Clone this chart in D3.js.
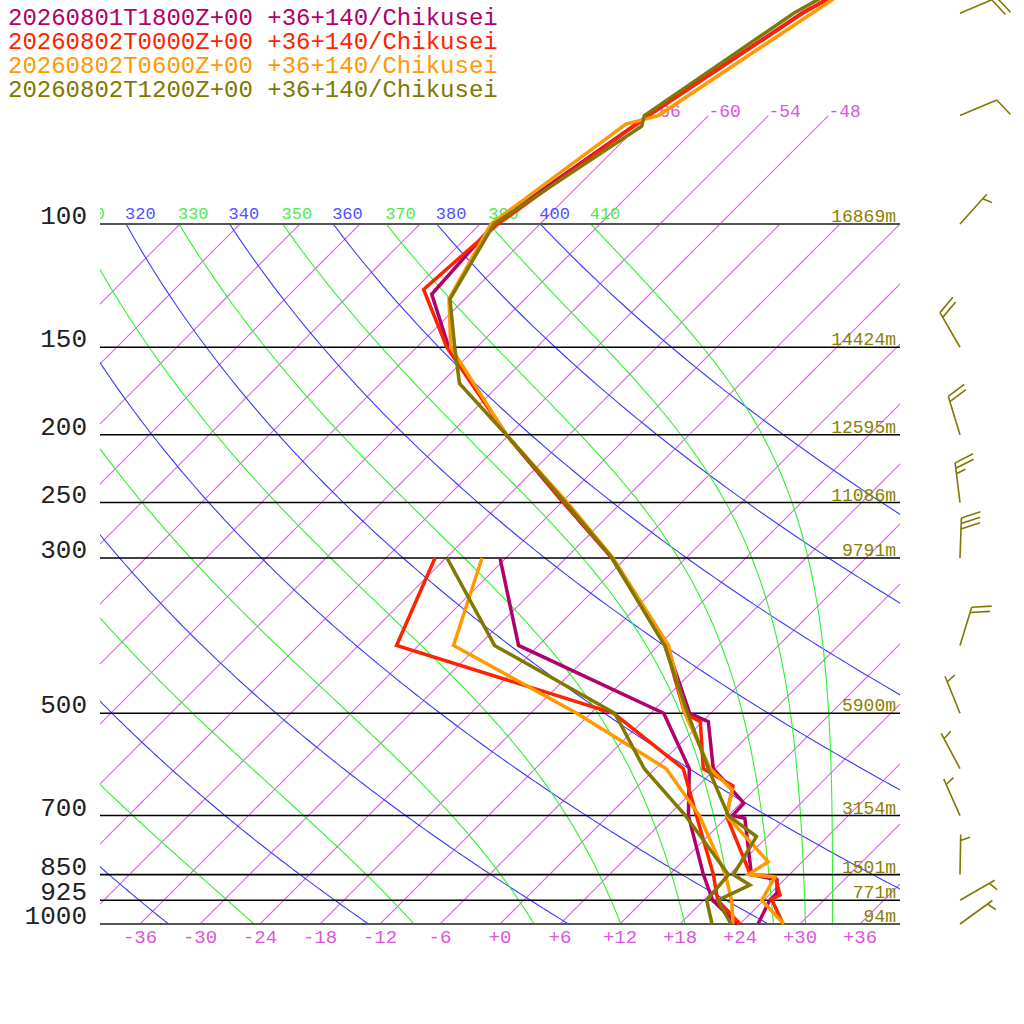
<!DOCTYPE html>
<html>
<head>
<meta charset="utf-8">
<script src="https://cdn.jsdelivr.net/npm/d3@7"></script>
<style>
	body { margin: 0; background: #fff; }
	text { font-family: 'Liberation Mono', monospace; }
</style>
</head>
<body>
<div id="chart"></div>
<script>
// runs shown in the legend, one colour each
const runs = ['20260801T1800Z+00', '20260802T0000Z+00', '20260802T0600Z+00', '20260802T1200Z+00']
const place = '+36+140/Chikusei'
const runColors = ['#b0006a', '#ff2200', '#ff9900', '#807800']

// labelled pressure lines and their heights
const pressureLevels = [100, 150, 200, 250, 300, 500, 700, 850, 925, 1000]
const heightLabels = ['16869m', '14424m', '12595m', '11086m', '9791m', '5900m', '3154m', '1501m', '771m', '94m']
const tempTicks = [-36, -30, -24, -18, -12, -6, 0, 6, 12, 18, 24, 30, 36]

// background lines
const isotherms = d3.range(-102, 37, 6)
const upperIsotherms = [-66, -60, -54, -48]
const dryAdiabats = [240, 260, 280, 300, 320, 340, 360, 380, 400]
const moistAdiabats = [250, 270, 290, 310, 330, 350, 370, 390, 410]

// temperature profiles [hPa, degC]
const temp1800 = [[1000, 25.8], [925, 24.6], [903, 24.6], [865, 23.3], [850, 20.2], [706, 13.9], [700, 12.4], [672, 12.3], [600, 5.8], [514, 0.6], [500, -2.1], [400, -11.2], [300, -25.4], [250, -35.8], [200, -48.3], [150, -62.8], [126, -69.8], [100, -70.6], [70, -66.0], [50, -60.9], [30, -48.0]]
const temp0000 = [[1000, 28.3], [922, 24.7], [909, 25.1], [856, 22.8], [850, 20.1], [700, 11.8], [635, 9.5], [600, 4.8], [514, -0.2], [500, -2.6], [400, -11.3], [300, -25.4], [250, -35.8], [200, -48.3], [150, -63.0], [124, -71.1], [100, -70.2], [70, -66.0], [50, -60.8], [30, -49.5]]
const temp0600 = [[1000, 28.4], [925, 23.8], [857, 22.8], [850, 19.9], [815, 20.6], [700, 11.8], [643, 9.8], [600, 5.5], [500, -2.6], [400, -11.0], [300, -25.3], [250, -35.4], [200, -48.3], [150, -62.6], [128, -67.6], [100, -70.9], [72, -67.4], [70, -65.0], [30, -52.1]]
const temp1200 = [[1000, 23.1], [925, 19.4], [880, 21.1], [850, 18.4], [750, 16.9], [700, 12.0], [600, 5.3], [500, -2.3], [400, -11.4], [300, -25.4], [250, -35.6], [200, -48.3], [169, -58.1], [150, -62.2], [128, -67.5], [100, -70.6], [72.5, -65.6], [70, -66.4], [50, -61.7], [30, -49.6]]

// dewpoint profiles [hPa, degC]
const dew1800 = [[1000, 23.7], [925, 18.9], [850, 15.4], [700, 8.0], [600, 3.4], [500, -4.7], [400, -26.0], [300, -36.6]]
const dew0000 = [[1000, 24.0], [925, 19.4], [850, 16.4], [700, 8.8], [600, 2.8], [500, -9.7], [400, -38.2], [300, -43.1]]
const dew0600 = [[1000, 23.3], [925, 20.8], [850, 17.6], [700, 9.1], [600, 1.1], [500, -13.4], [400, -32.5], [300, -38.4]]
const dew1200 = [[1000, 21.2], [925, 18.3], [850, 17.9], [700, 7.7], [600, -1.1], [500, -9.6], [400, -28.4], [300, -41.9]]

// winds of the last run (direction from, deg; speed, kt)
const windLevels = [1000, 925, 850, 700, 600, 500, 400, 300, 250, 200, 150, 100, 70, 50]
const windDir = [54, 60, 1, 336, 332, 338, 17, 2, 353, 343, 330, 42, 67, 67]
const windSpeed = [5, 5, 5, 5, 5, 5, 20, 30, 25, 20, 20, 5, 10, 20]

const temps = [temp1800, temp0000, temp0600, temp1200]
const dews = [dew1800, dew0000, dew0600, dew1200]

const isoColor = '#e040f0'

const svg = d3.select('#chart')
	.append('svg')
	.attr('width', 1024)
	.attr('height', 1024)

const y = d3.scaleLog().domain([1000, 100]).range([924, 224])
const t = d3.scaleLinear().domain([-40, 40]).range([100, 900])
// skewed: isotherms lean 45 degrees
const sx = (T, p) => t(T) + (y(1000) - y(p))

const defs = svg.append('defs')
defs.append('clipPath').attr('id', 'plot')
	.append('rect').attr('x', 100).attr('y', 224).attr('width', 800).attr('height', 700)
defs.append('clipPath').attr('id', 'upper')
	.append('rect').attr('x', 100).attr('y', 0).attr('width', 800).attr('height', 924)

// saturated equivalent potential temperature (Bolton 1980)
const esat = T => 6.112 * Math.exp(17.67 * (T - 273.15) / (T - 29.65))
const thetaE = (T, p) => {
	const e = esat(T)
	if (e > p * 0.3) return Infinity
	const r = 622 * e / (p - e)
	return T * Math.pow(1000 / p, 0.2854 * (1 - 0.00028 * r)) *
		Math.exp((3.376 / T - 0.00254) * r * (1 + 0.00081 * r))
}
const moistT = (te, p) => {
	let lo = 120, hi = 340
	for (let i = 0; i < 50; i++) {
		const mid = (lo + hi) / 2
		if (thetaE(mid, p) > te) hi = mid
		else lo = mid
	}
	return (lo + hi) / 2 - 273.15
}
const dryT = (th, p) => th * Math.pow(p / 1000, 0.2857) - 273.15

const steps = d3.range(1000, 99, -5)
const upSteps = d3.range(100, 69, -5)
const curve = d3.line().x(d => d[0]).y(d => d[1])

const bg = svg.append('g').attr('clip-path', 'url(#plot)')

bg.selectAll('path.iso')
	.data(isotherms)
	.enter()
	.append('path')
	.attr('class', 'iso')
	.attr('d', T => curve(steps.map(p => [sx(T, p), y(p)])))
	.style('fill', 'none')
	.style('stroke', isoColor)
	.style('stroke-opacity', 0.85)
	.style('stroke-width', 1.1)

bg.selectAll('path.dry')
	.data(dryAdiabats)
	.enter()
	.append('path')
	.attr('class', 'dry')
	.attr('d', th => curve(steps.map(p => [sx(dryT(th, p), p), y(p)])))
	.style('fill', 'none')
	.style('stroke', '#3a3aff')
	.style('stroke-width', 1.1)

bg.selectAll('path.moist')
	.data(moistAdiabats)
	.enter()
	.append('path')
	.attr('class', 'moist')
	.attr('d', te => curve(steps.map(p => [sx(moistT(te, p), p), y(p)])))
	.style('fill', 'none')
	.style('stroke', '#30f030')
	.style('stroke-width', 1.1)

const up = svg.append('g').attr('clip-path', 'url(#upper)')

up.selectAll('path.iso')
	.data(upperIsotherms)
	.enter()
	.append('path')
	.attr('class', 'iso')
	.attr('d', T => curve(upSteps.map(p => [sx(T, p), y(p)])))
	.style('fill', 'none')
	.style('stroke', isoColor)
	.style('stroke-opacity', 0.85)
	.style('stroke-width', 1.1)

up.selectAll('text.iso')
	.data(upperIsotherms)
	.enter()
	.append('text')
	.attr('class', 'iso')
	.attr('x', T => sx(T, 70))
	.attr('y', y(70) + 1)
	.attr('font-size', 18)
	.attr('fill', '#dd55dd')
	.text(T => T)

// theta labels along the 100 hPa line (only those reaching the plot)
const thetaLabels = dryAdiabats.map(th => ({ v: th, x: sx(dryT(th, 100), 100), c: '#5050ff' }))
	.concat(moistAdiabats.map(te => ({ v: te, x: sx(moistT(te, 100), 100), c: '#50e850' })))
	.filter(d => d.x > 70)

up.selectAll('text.theta')
	.data(thetaLabels)
	.enter()
	.append('text')
	.attr('class', 'theta')
	.attr('x', d => d.x - 1)
	.attr('y', y(100) - 5)
	.attr('font-size', 17)
	.attr('fill', d => d.c)
	.text(d => d.v)

// pressure lines
svg.append('g')
	.selectAll('line')
	.data(pressureLevels)
	.enter()
	.append('line')
	.attr('x1', 100)
	.attr('x2', 900)
	.attr('y1', p => y(p))
	.attr('y2', p => y(p))
	.attr('stroke', p => (p === 100 || p === 1000 ? '#555' : '#000'))
	.attr('stroke-width', p => (p === 100 || p === 1000 ? 2 : 1.6))

svg.append('g')
	.selectAll('text')
	.data(pressureLevels)
	.enter()
	.append('text')
	.attr('x', 87)
	.attr('y', p => y(p))
	.attr('text-anchor', 'end')
	.attr('font-size', 26)
	.attr('fill', '#222')
	.text(p => p)

svg.append('g')
	.selectAll('text')
	.data(pressureLevels)
	.enter()
	.append('text')
	.attr('x', 896)
	.attr('y', p => y(p) - 2)
	.attr('text-anchor', 'end')
	.attr('font-size', 18)
	.attr('fill', '#8a8000')
	.text((p, i) => heightLabels[i])

svg.append('g')
	.selectAll('text')
	.data(tempTicks)
	.enter()
	.append('text')
	.attr('x', T => t(T))
	.attr('y', 943)
	.attr('text-anchor', 'middle')
	.attr('font-size', 19)
	.attr('fill', '#dd55dd')
	.text(T => (T >= 0 ? '+' : '') + T)

// profiles
const profile = d3.line().x(d => sx(d[1], d[0])).y(d => y(d[0]))
const traces = svg.append('g')

runs.forEach((run, i) => {
	[dews[i], temps[i]].forEach(data => {
		traces.append('path')
			.attr('d', profile(data))
			.attr('fill', 'none')
			.attr('stroke', runColors[i])
			.attr('stroke-width', 3.5)
	})
})

// legend
svg.append('g')
	.selectAll('text')
	.data(runs)
	.enter()
	.append('text')
	.attr('x', 8)
	.attr('y', (d, i) => 25 + i * 24)
	.attr('font-size', 24)
	.attr('fill', (d, i) => runColors[i])
	.text(d => `${d} ${place}`)

// wind barbs
const barbs = svg.append('g')
	.attr('stroke', '#807800')
	.attr('stroke-width', 1.6)
	.attr('fill', 'none')

const rot = 70 * Math.PI / 180
windLevels.forEach((p, i) => {
	const a = windDir[i] * Math.PI / 180
	const ux = Math.sin(a)
	const uy = -Math.cos(a)
	const bx = 960
	const by = y(p)
	const len = 40
	barbs.append('line')
		.attr('x1', bx).attr('y1', by)
		.attr('x2', bx + ux * len).attr('y2', by + uy * len)
	const vx = ux * Math.cos(rot) - uy * Math.sin(rot)
	const vy = ux * Math.sin(rot) + uy * Math.cos(rot)
	const full = Math.floor(windSpeed[i] / 10)
	const half = Math.round((windSpeed[i] % 10) / 5)
	let pos = full === 0 ? 6 : 0
	const flag = size => {
		const px = bx + ux * (len - pos)
		const py = by + uy * (len - pos)
		barbs.append('line')
			.attr('x1', px).attr('y1', py)
			.attr('x2', px + vx * size).attr('y2', py + vy * size)
		pos += 5.5
	}
	for (let k = 0; k < full; k++) flag(20)
	if (half) flag(10)
})
</script>
</body>
</html>
